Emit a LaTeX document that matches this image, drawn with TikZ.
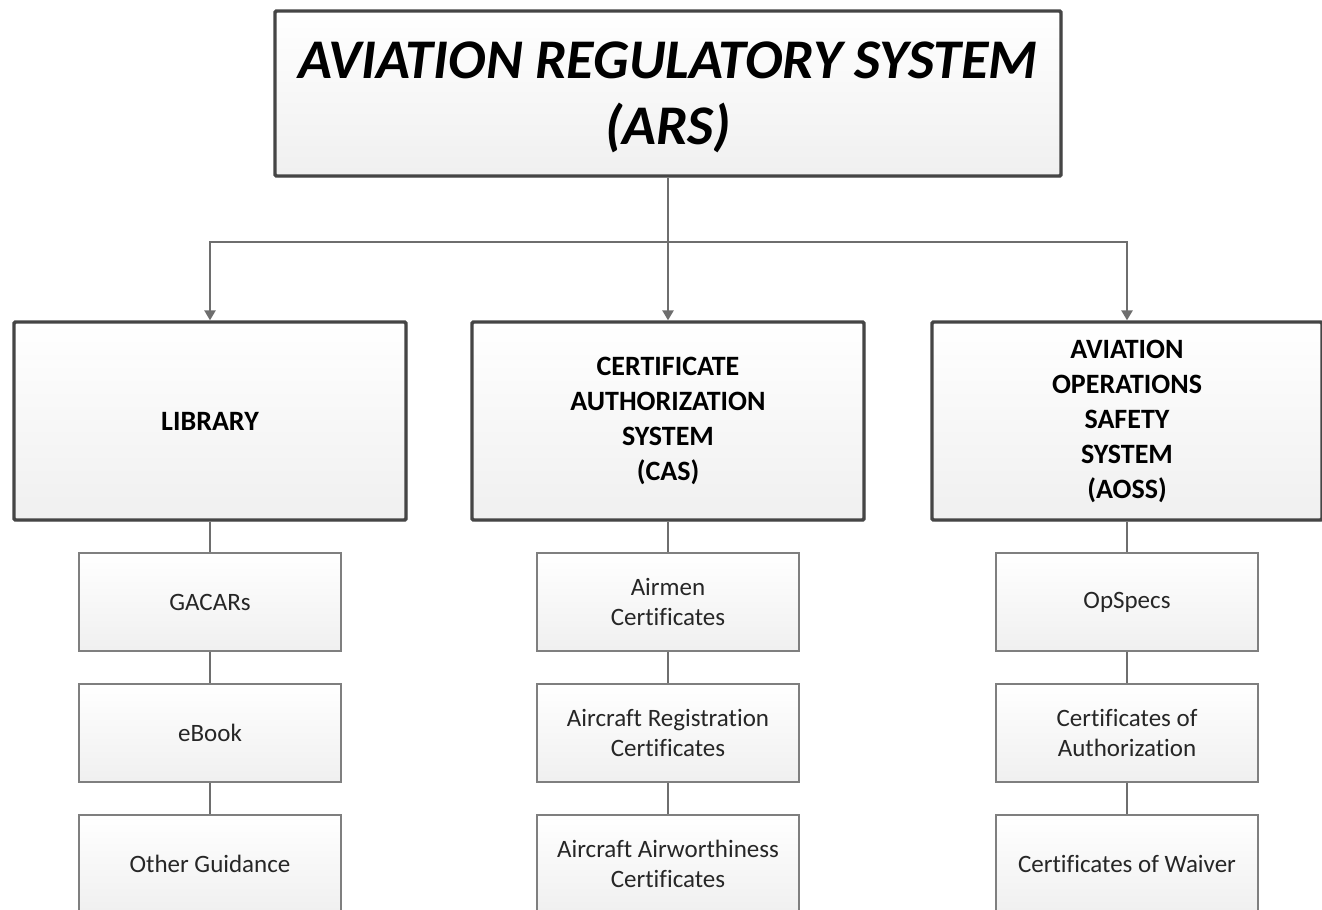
\documentclass[tikz,border=0pt]{standalone}
\usepackage{fontspec}
\setmainfont{Carlito}[Ligatures=NoCommon]
\usetikzlibrary{arrows.meta,shadows}
\definecolor{bordA}{HTML}{454545}
\definecolor{bordB}{HTML}{7F7F7F}
\definecolor{connc}{HTML}{6E6E6E}
\tikzset{
  x=0.75pt, y=-0.75pt,
  bigbox/.style={draw=bordA, line width=2.6pt, rounded corners=1pt,
    top color=white, bottom color=black!6, align=center, inner sep=0pt,
    drop shadow={shadow xshift=1.2pt, shadow yshift=-1.2pt, opacity=0.25, fill=black!50}},
  lvtwo/.style={bigbox, minimum width={392*0.75pt}, minimum height={198*0.75pt},
    font=\fontsize{21pt}{26.25pt}\selectfont\bfseries},
  leaf/.style={draw=bordB, line width=1.3pt, top color=white, bottom color=black!6,
    minimum width={262*0.75pt}, minimum height={98*0.75pt}, align=center, inner sep=0pt,
    font=\fontsize{18.75pt}{22.5pt}\selectfont, text=black!85},
  conn/.style={draw=connc, line width=1.4pt},
  arr/.style={conn, -{Triangle[width=8.5pt,length=7.5pt]}},
}
\begin{document}
\begin{tikzpicture}
\useasboundingbox (0,0) rectangle (1322,910);
\node[bigbox, minimum width={786*0.75pt}, minimum height={165*0.75pt},
  label={[align=center, yshift=-3.2pt, font=\fontsize{42pt}{49.5pt}\selectfont\bfseries\itshape]center:AVIATION REGULATORY SYSTEM\\(ARS)}] (ars) at (668,93.5) {};
\node[lvtwo] (lib) at (210,421) {LIBRARY};
\node[lvtwo] (cas) at (668,421) {CERTIFICATE\\AUTHORIZATION\\SYSTEM\\(CAS)};
\node[lvtwo, minimum width={390*0.75pt}] (aoss) at (1127,421) {AVIATION\\OPERATIONS\\SAFETY\\SYSTEM\\(AOSS)};
\coordinate (bus) at (668,242);
\draw[arr] (ars.south) -- (cas.north);
\draw[arr] (bus) -| (lib.north);
\draw[arr] (bus) -| (aoss.north);
% library column
\node[leaf] (l1) at (210,602) {GACARs};
\node[leaf] (l2) at (210,733) {eBook};
\node[leaf] (l3) at (210,864) {Other Guidance};
% cas column
\node[leaf] (c1) at (668,602) {Airmen\\Certificates};
\node[leaf] (c2) at (668,733) {Aircraft Registration\\Certificates};
\node[leaf] (c3) at (668,864) {Aircraft Airworthiness\\Certificates};
% aoss column
\node[leaf] (a1) at (1127,602) {OpSpecs};
\node[leaf] (a2) at (1127,733) {Certificates of\\Authorization};
\node[leaf] (a3) at (1127,864) {Certificates of Waiver};
\draw[conn] (lib.south) -- (l1.north);
\draw[conn] (l1.south) -- (l2.north);
\draw[conn] (l2.south) -- (l3.north);
\draw[conn] (cas.south) -- (c1.north);
\draw[conn] (c1.south) -- (c2.north);
\draw[conn] (c2.south) -- (c3.north);
\draw[conn] (aoss.south) -- (a1.north);
\draw[conn] (a1.south) -- (a2.north);
\draw[conn] (a2.south) -- (a3.north);
\end{tikzpicture}
\end{document}
